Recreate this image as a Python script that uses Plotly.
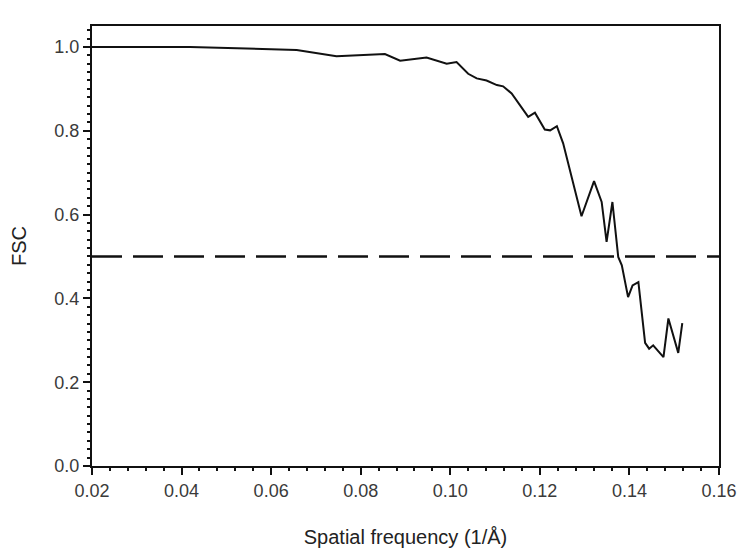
import plotly.graph_objects as go

# Spatial frequency (1/Å) and FSC values
freq = [0.0200, 0.0419, 0.0657, 0.0746, 0.0854, 0.0888, 0.0947, 0.0992, 0.1014,
        0.1040, 0.1059, 0.1081, 0.1104, 0.1118, 0.1137, 0.1174, 0.1189, 0.1211,
        0.1223, 0.1238, 0.1252, 0.1293, 0.1321, 0.1338, 0.1349, 0.1362, 0.1375,
        0.1383, 0.1397, 0.1407, 0.1420, 0.1435, 0.1444, 0.1453, 0.1476, 0.1487,
        0.1509, 0.1518]
fsc = [1.000, 1.000, 0.993, 0.978, 0.983, 0.967, 0.975, 0.960, 0.964,
       0.936, 0.925, 0.920, 0.909, 0.906, 0.889, 0.833, 0.843, 0.803,
       0.801, 0.811, 0.770, 0.596, 0.680, 0.630, 0.535, 0.630, 0.499,
       0.479, 0.403, 0.431, 0.439, 0.294, 0.280, 0.288, 0.260, 0.352,
       0.270, 0.341]

threshold_x = [0.02, 0.16]
threshold_y = [0.5, 0.5]

x_ticks = [0.02, 0.04, 0.06, 0.08, 0.10, 0.12, 0.14, 0.16]
x_tick_labels = ["0.02", "0.04", "0.06", "0.08", "0.10", "0.12", "0.14", "0.16"]
y_ticks = [0.0, 0.2, 0.4, 0.6, 0.8, 1.0]
y_tick_labels = ["0.0", "0.2", "0.4", "0.6", "0.8", "1.0"]

fig = go.Figure()
fig.add_trace(go.Scatter(x=threshold_x, y=threshold_y, mode="lines",
                         line=dict(color="#111111", width=2.5, dash="30px,11px"),
                         showlegend=False, hoverinfo="skip"))
fig.add_trace(go.Scatter(x=freq, y=fsc, mode="lines",
                         line=dict(color="#111111", width=2),
                         showlegend=False))

font_family = "Liberation Sans, Arial, sans-serif"
tick_font = dict(family=font_family, size=18, color="#3a3a3a")
title_font = dict(family=font_family, size=20, color="#222222")

# page body has an 8px margin, so the figure is sized to fit the window
fig.update_layout(
    width=742, height=545,
    margin=dict(l=84, r=31, t=18, b=87),
    paper_bgcolor="white", plot_bgcolor="white",
    xaxis=dict(
        range=[0.02, 0.16], tickvals=x_ticks, ticktext=x_tick_labels,
        ticks="outside", ticklen=7, tickwidth=2, tickcolor="#111111",
        showline=True, linecolor="#111111", linewidth=2, mirror=True,
        showgrid=False, zeroline=False, tickfont=tick_font, automargin=False,
        minor=dict(dtick=0.004, tick0=0.02, ticks="outside", ticklen=3,
                   tickwidth=2, tickcolor="#111111", showgrid=False),
        title=dict(text="Spatial frequency (1/Å)", font=title_font, standoff=30),
    ),
    yaxis=dict(
        range=[0, 1.05], tickvals=y_ticks, ticktext=y_tick_labels,
        ticks="outside", ticklen=7, tickwidth=2, tickcolor="#111111",
        showline=True, linecolor="#111111", linewidth=2, mirror=True,
        showgrid=False, zeroline=False, tickfont=tick_font, automargin=False,
        minor=dict(dtick=0.02, tick0=0, ticks="outside", ticklen=3,
                   tickwidth=2, tickcolor="#111111", showgrid=False),
        title=dict(text="FSC", font=title_font, standoff=25),
    ),
)

fig.write_html("out.html")
